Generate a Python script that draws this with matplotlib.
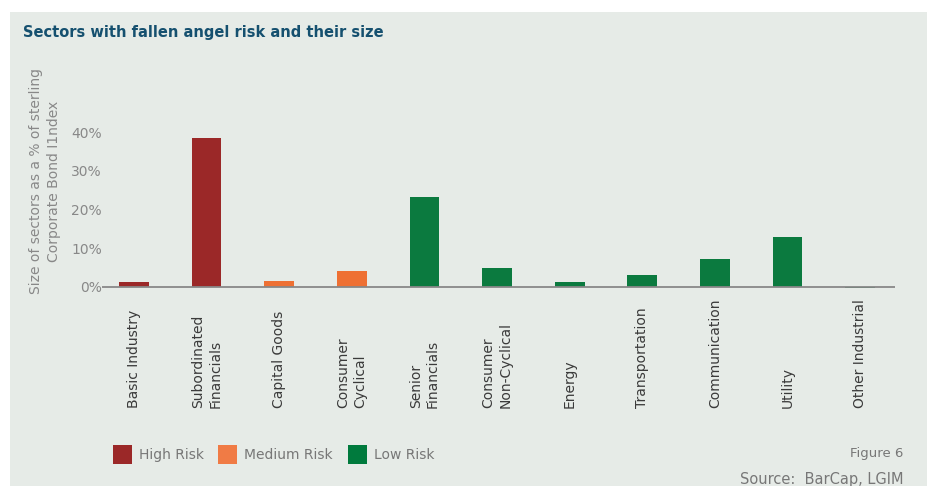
import numpy as np
import matplotlib.pyplot as plt
from matplotlib.patches import Rectangle
import matplotlib.transforms as mtransforms

sectors = ["Basic Industry", "Subordinated\nFinancials", "Capital Goods", "Consumer\nCyclical",
           "Senior\nFinancials", "Consumer\nNon-Cyclical", "Energy", "Transportation",
           "Communication", "Utility", "Other Industrial"]
sizes = [1.3, 38.5, 1.6, 4.2, 23.3, 5.0, 1.4, 3.0, 7.2, 12.8, -0.3]
risk = ["High", "High", "Medium", "Medium", "Low", "Low", "Low", "Low", "Low", "Low", "Low"]

risk_names = ["High Risk", "Medium Risk", "Low Risk"]
risk_colors = {"High": "#9B2828", "Medium": "#EE7033", "Low": "#0B7A3F"}
legend_colors = ["#9B2828", "#F07B45", "#007A3D"]

bg = "#E6EBE7"
grey = "#888888"

fig = plt.figure(figsize=(9.27, 4.86), dpi=100)
fig.patch.set_facecolor("white")
fig.patches.append(Rectangle((10 / 927, 0), 1, 1 - 12 / 486, transform=fig.transFigure,
                             facecolor=bg, edgecolor="none", zorder=-5))

ax = fig.add_axes([102 / 927, 1 - 294.7 / 486, 793 / 927, 0.3506])
ax.set_facecolor("none")
ax.set_zorder(2)

x = np.arange(len(sectors))
ax.bar(x, sizes, width=0.41, color=[risk_colors[r] for r in risk], zorder=2)
ax.set_xlim(-0.44, 10.48)
ax.set_ylim(-2, 42)
ax.axhline(0, color=grey, lw=1.3, zorder=3)
for s in ax.spines.values():
    s.set_visible(False)
ax.set_yticks([0, 10, 20, 30, 40])
ax.set_yticklabels(["0%", "10%", "20%", "30%", "40%"], color=grey, fontsize=10)
ax.tick_params(axis="y", length=0, pad=0)
ax.set_xticks([])

trans = mtransforms.blended_transform_factory(ax.transData, fig.transFigure)
for xi, name in zip(x, sectors):
    ax.text(xi, 1 - 408 / 486, name, transform=trans, rotation=90, ha="center", va="bottom",
            multialignment="left", fontsize=10, color="#3A3A3A", linespacing=1.3)

fig.text(45 / 927, 1 - 181 / 486, "Size of sectors as a % of sterling\nCorporate Bond I1ndex",
         rotation=90, ha="center", va="center", fontsize=10, color=grey, linespacing=1.3)

fig.text(23 / 927, 1 - 33 / 486, "Sectors with fallen angel risk and their size",
         fontsize=10.5, fontweight="bold", color="#15506F", ha="left", va="center")

# legend
lx = [113, 218, 348]
for px, name, c in zip(lx, risk_names, legend_colors):
    fig.patches.append(Rectangle((px / 927, 1 - 464 / 486), 19 / 927, 19 / 486,
                                 transform=fig.transFigure, facecolor=c, edgecolor="none"))
    fig.text((px + 26) / 927, 1 - 455 / 486, name, fontsize=10, color="#777777",
             ha="left", va="center")

fig.text(903 / 927, 1 - 453 / 486, "Figure 6", fontsize=9.5, color="#777777", ha="right", va="center")
fig.text(903 / 927, 1 - 479 / 486, "Source:  BarCap, LGIM", fontsize=10.5, color="#777777",
         ha="right", va="center")

fig.savefig("out.png", dpi=100, facecolor=fig.get_facecolor())
